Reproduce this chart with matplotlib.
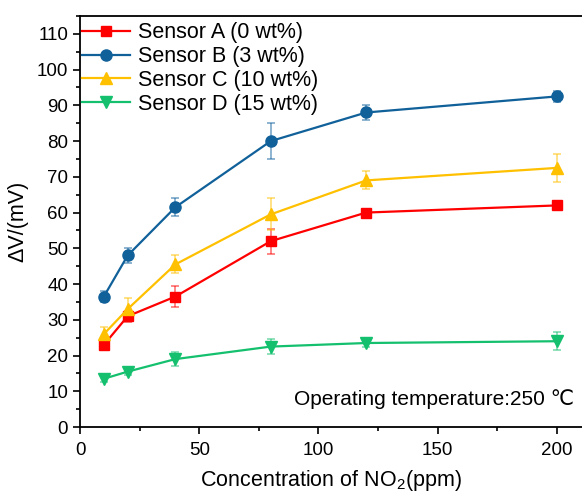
import matplotlib
matplotlib.use('Agg')
import matplotlib.pyplot as plt
from matplotlib.ticker import MultipleLocator

plt.rcParams['font.family'] = ['Liberation Sans', 'DejaVu Sans']
plt.rcParams['mathtext.fontset'] = 'custom'
plt.rcParams['mathtext.rm'] = 'Liberation Sans'
plt.rcParams['mathtext.it'] = 'Liberation Sans:italic'

# 数据
conc = [10, 20, 40, 80, 120, 200]
labels = ['Sensor A (0 wt%)', 'Sensor B (3 wt%)', 'Sensor C (10 wt%)', 'Sensor D (15 wt%)']
sensor_a = [23.0, 31.0, 36.5, 52.0, 60.0, 62.0]
sensor_a_err = [1.5, 1.5, 3.0, 3.5, 0.5, 0.5]
sensor_b = [36.5, 48.0, 61.5, 80.0, 88.0, 92.5]
sensor_b_err = [1.5, 2.0, 2.5, 5.0, 2.0, 1.5]
sensor_c = [26.0, 33.0, 45.5, 59.5, 69.0, 72.5]
sensor_c_err = [2.0, 3.0, 2.5, 4.5, 2.5, 4.0]
sensor_d = [13.5, 15.5, 19.0, 22.5, 23.5, 24.0]
sensor_d_err = [1.0, 1.0, 2.0, 2.0, 1.0, 2.5]

series = [sensor_a, sensor_b, sensor_c, sensor_d]
errors = [sensor_a_err, sensor_b_err, sensor_c_err, sensor_d_err]
colors = ['#FF0000', '#10609A', '#FFC000', '#14C06E']
markers = ['s', 'o', '^', 'v']

fig = plt.figure(figsize=(5.82, 4.93), dpi=100)
ax = fig.add_axes([80 / 582, 66 / 493, 1 - 80 / 582, (427 - 16) / 493])

for y, e, c, m, lab in zip(series, errors, colors, markers, labels):
    ax.errorbar(conc, y, yerr=e, fmt='none', ecolor=c, alpha=0.6,
                elinewidth=1.1, capsize=3, capthick=1.1, zorder=2)
    ax.plot(conc, y, color=c, marker=m, markersize=8 if m != 's' else 7,
            linewidth=1.6, label=lab, zorder=3)

ax.set_xlim(0, 210.5)
ax.set_ylim(0, 115)
ax.xaxis.set_major_locator(MultipleLocator(50))
ax.xaxis.set_minor_locator(MultipleLocator(25))
ax.yaxis.set_major_locator(MultipleLocator(10))
ax.yaxis.set_minor_locator(MultipleLocator(5))
ax.tick_params(which='both', direction='out', labelsize=13.5, width=1.2)
ax.tick_params(which='major', length=5)
ax.tick_params(which='minor', length=3)
ax.tick_params(axis='x', pad=6)
ax.spines['right'].set_visible(False)
for s in ['left', 'bottom', 'top']:
    ax.spines[s].set_linewidth(1.3)

ax.set_xlabel('Concentration of NO$_2$(ppm)', fontsize=15.5, labelpad=6)
ax.set_ylabel('ΔV/(mV)', fontsize=15.5, labelpad=6)

ax.legend(loc='upper left', bbox_to_anchor=(0.0, 0.99), frameon=False,
          fontsize=15.5, handlelength=2.2, handletextpad=0.4,
          labelspacing=0.13, borderaxespad=0.05, borderpad=0.05)

ax.text(0.985, 0.068, 'Operating temperature:250 ℃', transform=ax.transAxes,
        ha='right', va='center', fontsize=15)

plt.savefig('out.png', dpi=100)
plt.close()
